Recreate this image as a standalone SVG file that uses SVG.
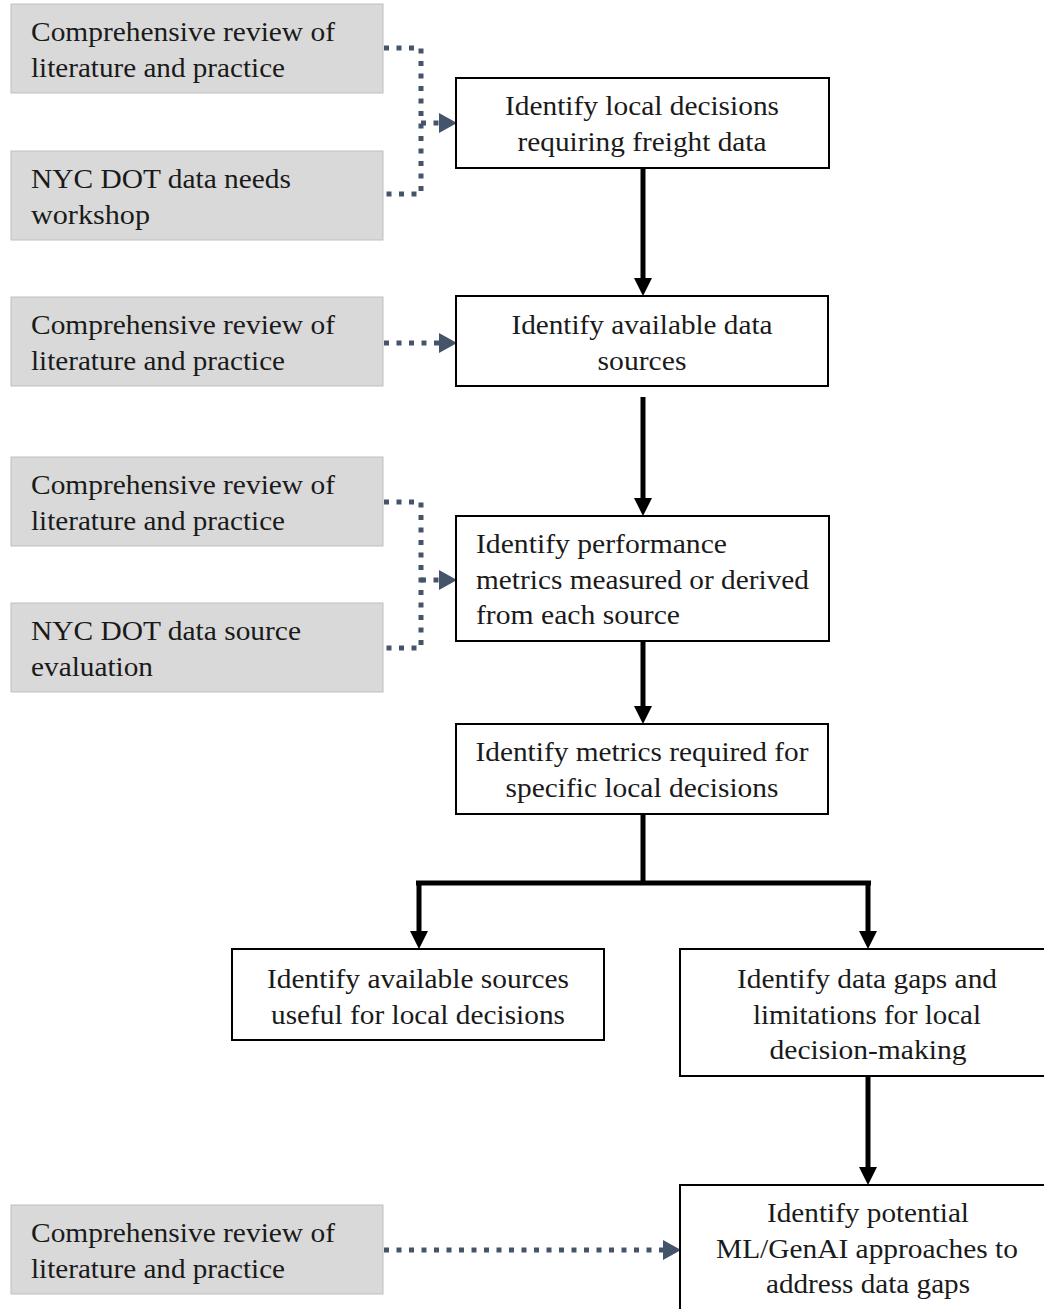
<svg xmlns="http://www.w3.org/2000/svg" width="1044" height="1309" viewBox="0 0 1044 1309">
<style>
.g{fill:#d9d9d9;stroke:#bfbfbf;stroke-width:1}
.w{fill:#fff;stroke:#000;stroke-width:2}
text{font-family:"Liberation Serif","Times New Roman",serif;font-size:27px;fill:#1a1a1a}
.c{text-anchor:middle}
.d{fill:none;stroke:#44546a;stroke-width:5;stroke-dasharray:5 7.5}
.s{fill:none;stroke:#000;stroke-width:5}
</style>
<g id="connectors">
<path class="d" d="M384,48 H421 V194 H384"/>
<path class="d" d="M421,123 H440"/>
<path d="M439,113 L457,123 L439,133 z" fill="#44546a"/>
<path class="d" d="M384,343 H440"/>
<path d="M439,333 L457,343 L439,353 z" fill="#44546a"/>
<path class="d" d="M384,502 H421 V648 H384"/>
<path class="d" d="M421,580 H440"/>
<path d="M439,570 L457,580 L439,590 z" fill="#44546a"/>
<path class="d" d="M384,1250 H664"/>
<path d="M663,1240 L681,1250 L663,1260 z" fill="#44546a"/>
<path class="s" d="M643,169 V278"/>
<path d="M634,278 L643,296 L652,278 z"/>
<path class="s" d="M643,397 V498"/>
<path d="M634,498 L643,516 L652,498 z"/>
<path class="s" d="M643,642 V706"/>
<path d="M634,706 L643,724 L652,706 z"/>
<path class="s" d="M643,815 V883 M416,883 H871 M419,881 V931 M868,881 V931"/>
<path d="M410,931 L419,949 L428,931 z"/>
<path d="M859,931 L868,949 L877,931 z"/>
<path class="s" d="M868,1077 V1167"/>
<path d="M859,1167 L868,1185 L877,1167 z"/>
</g>
<g id="g1"><rect class="g" x="11" y="4" width="372" height="89"/><text x="31" y="41" textLength="304" lengthAdjust="spacingAndGlyphs">Comprehensive review of</text><text x="31" y="77" textLength="254" lengthAdjust="spacingAndGlyphs">literature and practice</text></g>
<g id="g2"><rect class="g" x="11" y="151" width="372" height="89"/><text x="31" y="188" textLength="260" lengthAdjust="spacingAndGlyphs">NYC DOT  data needs</text><text x="31" y="224" textLength="119" lengthAdjust="spacingAndGlyphs">workshop</text></g>
<g id="g3"><rect class="g" x="11" y="297" width="372" height="89"/><text x="31" y="334" textLength="304" lengthAdjust="spacingAndGlyphs">Comprehensive review of</text><text x="31" y="370" textLength="254" lengthAdjust="spacingAndGlyphs">literature and practice</text></g>
<g id="g4"><rect class="g" x="11" y="457" width="372" height="89"/><text x="31" y="494" textLength="304" lengthAdjust="spacingAndGlyphs">Comprehensive review of</text><text x="31" y="530" textLength="254" lengthAdjust="spacingAndGlyphs">literature and practice</text></g>
<g id="g5"><rect class="g" x="11" y="603" width="372" height="89"/><text x="31" y="640" textLength="270" lengthAdjust="spacingAndGlyphs">NYC DOT  data source</text><text x="31" y="676" textLength="122" lengthAdjust="spacingAndGlyphs">evaluation</text></g>
<g id="g6"><rect class="g" x="11" y="1205" width="372" height="89"/><text x="31" y="1242" textLength="304" lengthAdjust="spacingAndGlyphs">Comprehensive review of</text><text x="31" y="1278" textLength="254" lengthAdjust="spacingAndGlyphs">literature and practice</text></g>
<g id="n1"><rect class="w" x="456" y="78" width="373" height="90"/><text class="c" x="642" y="115" textLength="274" lengthAdjust="spacingAndGlyphs">Identify local decisions</text><text class="c" x="642" y="151" textLength="249" lengthAdjust="spacingAndGlyphs">requiring freight data</text></g>
<g id="n2"><rect class="w" x="456" y="296" width="372" height="90"/><text class="c" x="642" y="334" textLength="261" lengthAdjust="spacingAndGlyphs">Identify available data</text><text class="c" x="642" y="370" textLength="89" lengthAdjust="spacingAndGlyphs">sources</text></g>
<g id="n3"><rect class="w" x="456" y="516" width="373" height="125"/><text x="476" y="553" textLength="251" lengthAdjust="spacingAndGlyphs">Identify performance</text><text x="476" y="589" textLength="333" lengthAdjust="spacingAndGlyphs">metrics measured or derived</text><text x="476" y="624" textLength="204" lengthAdjust="spacingAndGlyphs">from each source</text></g>
<g id="n4"><rect class="w" x="456" y="724" width="372" height="90"/><text class="c" x="642" y="761" textLength="333" lengthAdjust="spacingAndGlyphs">Identify metrics required for</text><text class="c" x="642" y="797" textLength="273" lengthAdjust="spacingAndGlyphs">specific local decisions</text></g>
<g id="n5"><rect class="w" x="232" y="949" width="372" height="91"/><text class="c" x="418" y="988" textLength="302" lengthAdjust="spacingAndGlyphs">Identify available sources</text><text class="c" x="418" y="1024" textLength="294" lengthAdjust="spacingAndGlyphs">useful for local decisions</text></g>
<g id="n6"><rect class="w" x="680" y="949" width="366" height="127"/><text class="c" x="867" y="988" textLength="260" lengthAdjust="spacingAndGlyphs">Identify data gaps and</text><text class="c" x="867" y="1024" textLength="228" lengthAdjust="spacingAndGlyphs">limitations for local</text><text class="c" x="868" y="1059" textLength="197" lengthAdjust="spacingAndGlyphs">decision-making</text></g>
<g id="n7"><rect class="w" x="680" y="1185" width="366" height="126"/><text class="c" x="868" y="1222" textLength="202" lengthAdjust="spacingAndGlyphs">Identify potential</text><text class="c" x="867" y="1258" textLength="302" lengthAdjust="spacingAndGlyphs">ML/GenAI  approaches to</text><text class="c" x="868" y="1293" textLength="204" lengthAdjust="spacingAndGlyphs">address data gaps</text></g>
</svg>
